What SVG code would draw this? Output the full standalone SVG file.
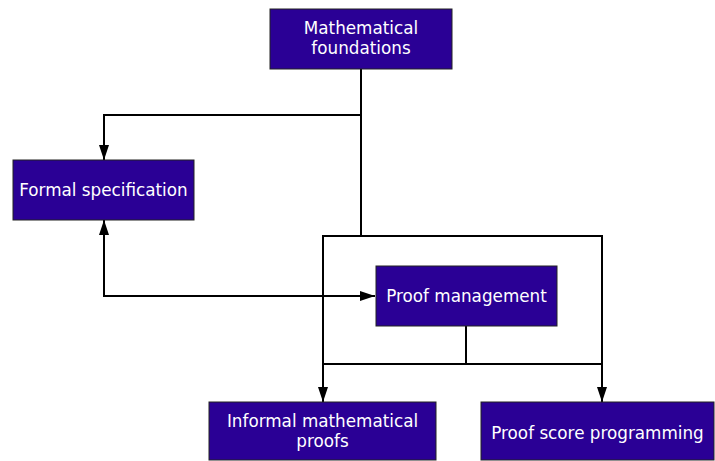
<svg xmlns="http://www.w3.org/2000/svg" width="715" height="461" viewBox="0 0 715 461">
<style>
.n{fill:#2a0095;stroke:#222;stroke-width:1}
.t{fill:#fff;font-family:"DejaVu Sans",sans-serif;font-size:16.8px;text-anchor:middle}
.c{fill:none;stroke:#000;stroke-width:2}
</style>
<defs>
<marker id="a" markerWidth="16" markerHeight="12" refX="15" refY="6" orient="auto" markerUnits="userSpaceOnUse">
<path d="M0,1 L15,6 L0,11 z" fill="#000"/>
</marker>
<marker id="s" markerWidth="16" markerHeight="12" refX="1" refY="6" orient="auto" markerUnits="userSpaceOnUse">
<path d="M16,1 L1,6 L16,11 z" fill="#000"/>
</marker>
</defs>
<g id="connectors">
<path class="c" d="M361,69 V236"/>
<path class="c" d="M361,115 H104 V160" marker-end="url(#a)"/>
<path class="c" d="M104,220 V296 H375" marker-start="url(#s)" marker-end="url(#a)"/>
<path class="c" d="M323,236 H602 V364 H323 Z"/>
<path class="c" d="M466,326 V364"/>
<path class="c" d="M323,364 V402" marker-end="url(#a)"/>
<path class="c" d="M602,364 V402" marker-end="url(#a)"/>
</g>
<g id="math"><rect class="n" x="270" y="9" width="182" height="60"/><text class="t" x="361" y="34">Mathematical</text><text class="t" x="361" y="54">foundations</text></g>
<g id="formal"><rect class="n" x="13" y="160" width="181" height="60"/><text class="t" x="103.5" y="196">Formal specification</text></g>
<g id="pm"><rect class="n" x="376" y="266" width="181" height="60"/><text class="t" x="466.5" y="302">Proof management</text></g>
<g id="informal"><rect class="n" x="209" y="402" width="227" height="58"/><text class="t" x="322.5" y="427">Informal mathematical</text><text class="t" x="322.5" y="447">proofs</text></g>
<g id="score"><rect class="n" x="481" y="402" width="233" height="58"/><text class="t" x="597.5" y="439">Proof score programming</text></g>
</svg>
